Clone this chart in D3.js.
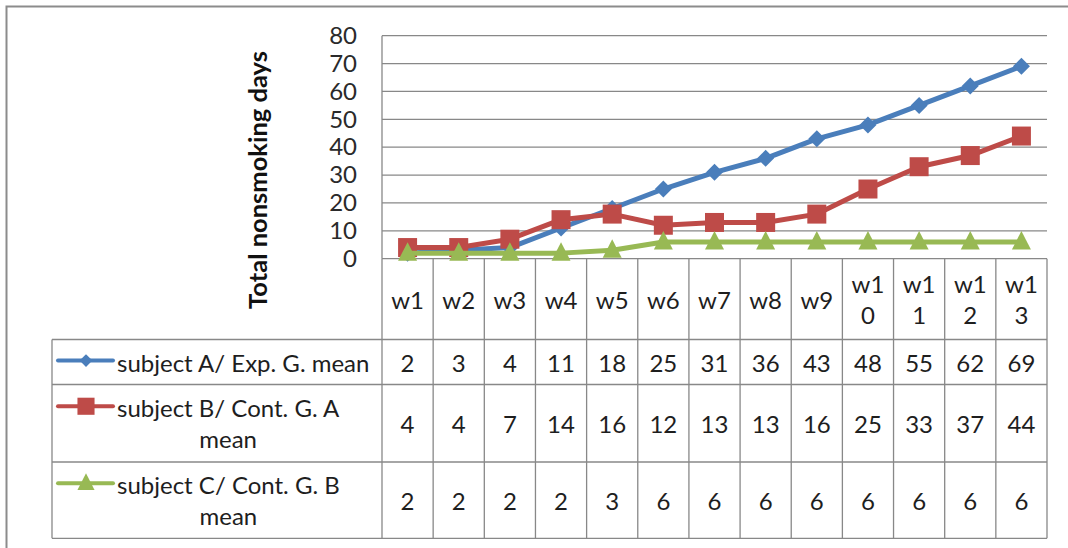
<!DOCTYPE html>
<html>
<head>
<meta charset="utf-8">
<script src="https://cdn.jsdelivr.net/npm/d3@7"></script>
<style>
  html, body { margin: 0; padding: 0; background: #fff; }
  svg { display: block; }
  text { font-family: Lato, "Open Sans", sans-serif; }
</style>
</head>
<body>
<svg id="chart" width="1068" height="548"></svg>
<script>
// Weekly cumulative nonsmoking days per group
const weeks = ["w1", "w2", "w3", "w4", "w5", "w6", "w7", "w8", "w9", "w10", "w11", "w12", "w13"];
const seriesA = [2, 3, 4, 11, 18, 25, 31, 36, 43, 48, 55, 62, 69];
const seriesB = [4, 4, 7, 14, 16, 12, 13, 13, 16, 25, 33, 37, 44];
const seriesC = [2, 2, 2, 2, 3, 6, 6, 6, 6, 6, 6, 6, 6];
const seriesNames = ["subject A/ Exp. G. mean", "subject B/ Cont. G. A mean", "subject C/ Cont. G. B mean"];
const seriesColors = ["#4A7EBB", "#BE4B48", "#98B954"];
const seriesMarkers = ["diamond", "square", "triangle"];
const yTicks = [0, 10, 20, 30, 40, 50, 60, 70, 80];
const yTitle = "Total nonsmoking days";

const series = [seriesA, seriesB, seriesC].map((values, i) => ({
  name: seriesNames[i], values, color: seriesColors[i], marker: seriesMarkers[i]
}));

const svg = d3.select("#chart");
const gridColor = "#888888";
const textColor = "#1e1e1e";
const fontSize = 24;

// outer frame (runs off the right and bottom edges)
svg.append("rect")
  .attr("x", 6.5).attr("y", 6.5).attr("width", 1120).attr("height", 600)
  .attr("fill", "#fff").attr("stroke", "#8c8c8c").attr("stroke-width", 2);

// plot area geometry
const plotLeft = 382, plotRight = 1047, plotTop = 35.7, plotBottom = 258.7;
const headerBottom = 339.5;
const rowBottoms = [384.5, 462, 538.3];
const tableLeft = 52;

const x = d3.scaleBand().domain(weeks).range([plotLeft, plotRight]).paddingInner(0).paddingOuter(0);
const y = d3.scaleLinear().domain([0, 80]).range([plotBottom, plotTop]);
const cx = d => x(d) + x.bandwidth() / 2;

// horizontal gridlines
svg.append("g").selectAll("line").data(yTicks).join("line")
  .attr("x1", plotLeft).attr("x2", plotRight)
  .attr("y1", d => y(d)).attr("y2", d => y(d))
  .attr("stroke", gridColor).attr("stroke-width", 1.3);

// y axis line and labels
svg.append("line")
  .attr("x1", plotLeft).attr("x2", plotLeft).attr("y1", plotTop).attr("y2", plotBottom)
  .attr("stroke", gridColor).attr("stroke-width", 1.3);

const yAxis = d3.axisLeft(y).tickValues(yTicks).tickSize(0).tickPadding(25);
const yAxisG = svg.append("g").attr("transform", `translate(${plotLeft},0)`).call(yAxis);
yAxisG.select(".domain").remove();
yAxisG.selectAll("text")
  .attr("font-family", "Lato, 'Open Sans', sans-serif")
  .attr("font-size", fontSize).attr("fill", "#2a2a2a");

// y axis title
svg.append("text")
  .attr("transform", "translate(257,180) rotate(-90)")
  .attr("text-anchor", "middle").attr("dominant-baseline", "central")
  .attr("font-size", 25.5).attr("font-weight", "bold").attr("fill", "#111")
  .text(yTitle);

// data table grid
const tableG = svg.append("g").attr("stroke", gridColor).attr("stroke-width", 1.3);
weeks.forEach(w => {
  tableG.append("line").attr("x1", x(w)).attr("x2", x(w)).attr("y1", plotBottom).attr("y2", rowBottoms[2]);
});
tableG.append("line").attr("x1", plotRight).attr("x2", plotRight).attr("y1", plotBottom).attr("y2", rowBottoms[2]);
tableG.append("line").attr("x1", tableLeft).attr("x2", tableLeft).attr("y1", headerBottom).attr("y2", rowBottoms[2]);
[headerBottom, ...rowBottoms].forEach(yy => {
  tableG.append("line").attr("x1", tableLeft).attr("x2", plotRight).attr("y1", yy).attr("y2", yy);
});

// helper to measure text
const measure = (str, size, weight) => {
  const t = svg.append("text").attr("font-size", size).attr("font-weight", weight || "normal").text(str);
  const w = t.node().getComputedTextLength();
  t.remove();
  return w;
};

// category header labels, wrapped by character when too wide for the column
const lineGap = 31;
const headerMid = (plotBottom + headerBottom) / 2;
const headerMax = x.bandwidth() - 12;
weeks.forEach(w => {
  let lines = [w];
  if (measure(w, fontSize) > headerMax) {
    lines = [];
    let cur = "";
    for (const ch of w) {
      if (cur && measure(cur + ch, fontSize) > headerMax) { lines.push(cur); cur = ch; }
      else cur += ch;
    }
    if (cur) lines.push(cur);
  }
  const t = svg.append("text")
    .attr("text-anchor", "middle").attr("font-size", fontSize).attr("fill", textColor);
  lines.forEach((ln, i) => {
    t.append("tspan")
      .attr("x", cx(w))
      .attr("y", headerMid + (i - (lines.length - 1) / 2) * lineGap)
      .attr("dominant-baseline", "central")
      .text(ln);
  });
});

// marker shapes
function markerPath(kind, scale) {
  const s = scale || 1;
  if (kind === "diamond") { const r = 8.5 * s; return `M0,${-r}L${r},0L0,${r}L${-r},0Z`; }
  if (kind === "square") { const r = 9.5 * s; return `M${-r},${-r}H${r}V${r}H${-r}Z`; }
  const hw = 9.5 * s, top = -11 * s, bot = 7.5 * s;
  return `M0,${top}L${hw},${bot}L${-hw},${bot}Z`;
}

// series lines and markers
const line = d3.line().x((d, i) => cx(weeks[i])).y(d => y(d));
series.forEach(s => {
  svg.append("path").datum(s.values)
    .attr("d", line).attr("fill", "none")
    .attr("stroke", s.color).attr("stroke-width", 5).attr("stroke-linejoin", "round");
  svg.append("g").selectAll("path").data(s.values).join("path")
    .attr("transform", (d, i) => `translate(${cx(weeks[i])},${y(d)})`)
    .attr("d", markerPath(s.marker)).attr("fill", s.color);
});

// legend rows with values
const rowTops = [headerBottom, rowBottoms[0], rowBottoms[1]];
const legendTextX = 117;
const legendMax = plotLeft - legendTextX - 5;
series.forEach((s, si) => {
  const top = rowTops[si], bottom = rowBottoms[si];
  const mid = (top + bottom) / 2;
  // word wrap
  const words = s.name.split(" ");
  const lines = [];
  let cur = "";
  words.forEach(wd => {
    const test = cur ? cur + " " + wd : wd;
    if (cur && measure(test, fontSize) > legendMax) { lines.push(cur); cur = wd; }
    else cur = test;
  });
  if (cur) lines.push(cur);
  const widths = lines.map(l => measure(l, fontSize));
  const blockW = d3.max(widths);
  const firstY = mid - (lines.length - 1) / 2 * lineGap;
  const t = svg.append("text").attr("text-anchor", "middle").attr("font-size", fontSize).attr("fill", textColor);
  lines.forEach((ln, i) => {
    t.append("tspan").attr("x", legendTextX + blockW / 2).attr("y", firstY + i * lineGap)
      .attr("dominant-baseline", "central").text(ln);
  });
  // legend key on the first line
  const keyY = firstY - 1.5;
  svg.append("line").attr("x1", 58).attr("x2", 113).attr("y1", keyY).attr("y2", keyY)
    .attr("stroke", s.color).attr("stroke-width", 4).attr("stroke-linecap", "round");
  svg.append("path").attr("transform", `translate(86,${keyY})`)
    .attr("d", markerPath(s.marker, s.marker === "diamond" ? 0.75 : 0.9)).attr("fill", s.color);
  // values
  svg.append("g").selectAll("text").data(s.values).join("text")
    .attr("x", (d, i) => cx(weeks[i])).attr("y", mid)
    .attr("text-anchor", "middle").attr("dominant-baseline", "central")
    .attr("font-size", fontSize).attr("fill", textColor)
    .text(d => d);
});
</script>
</body>
</html>
